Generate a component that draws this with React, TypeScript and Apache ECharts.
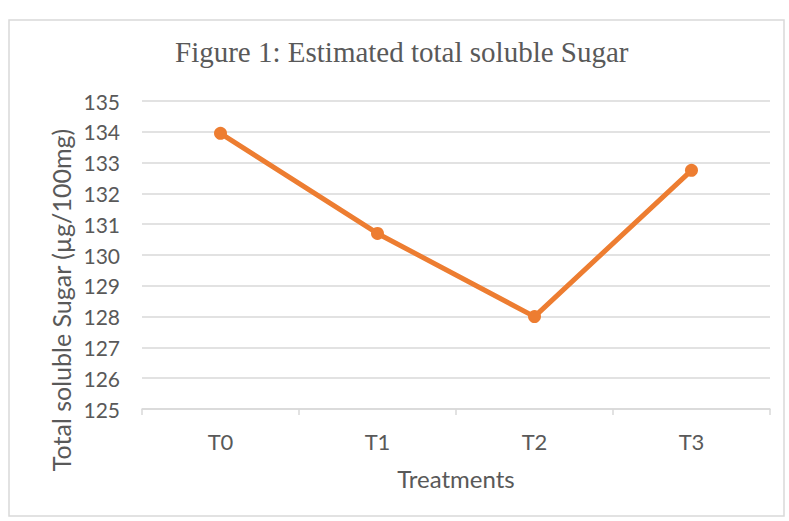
import React, { useEffect, useRef } from "react";
import * as echarts from "echarts";

const categories = ["T0", "T1", "T2", "T3"];
const sugarValues = [133.95, 130.7, 128.0, 132.75];
const yTicks = { min: 125, max: 135, interval: 1 };
const titleText = "Figure 1: Estimated total soluble Sugar";
const yAxisName = "Total soluble Sugar (µg/100mg)";
const xAxisName = "Treatments";

export default function App() {
  const ref = useRef<HTMLDivElement>(null);
  useEffect(() => {
    if (!ref.current) return;
    const chart = echarts.init(ref.current, null, { renderer: "svg" });
    const gray = "#595959";
    chart.setOption({
      animation: false,
      backgroundColor: "#ffffff",
      title: {
        text: titleText,
        left: 175,
        top: 37,
        padding: 0,
        textStyle: {
          fontFamily: "Liberation Serif",
          fontSize: 29,
          fontWeight: "normal",
          color: gray,
        },
      },
      graphic: [
        {
          type: "rect",
          shape: { x: 9, y: 20, width: 775, height: 496 },
          style: { fill: "none", stroke: "#d9d9d9", lineWidth: 1.5 },
          silent: true,
        },
        {
          type: "text",
          x: 61,
          y: 300,
          rotation: Math.PI / 2,
          style: {
            text: yAxisName,
            fontFamily: "Lato",
            fontSize: 25,
            fill: gray,
            align: "center",
            verticalAlign: "middle",
          },
          silent: true,
        },
      ],
      grid: { left: 142, right: 19, top: 101, bottom: 112, containLabel: false },
      xAxis: {
        type: "category",
        data: categories,
        boundaryGap: true,
        name: xAxisName,
        nameLocation: "middle",
        nameGap: 57,
        nameTextStyle: { fontFamily: "Lato", fontSize: 24, color: gray },
        axisLine: { show: true, lineStyle: { color: "#d9d9d9", width: 1.5 } },
        axisTick: { show: true, length: 6, lineStyle: { color: "#d9d9d9", width: 1.5 } },
        axisLabel: { margin: 21, fontFamily: "Lato", fontSize: 22, color: gray },
      },
      yAxis: {
        type: "value",
        min: yTicks.min,
        max: yTicks.max,
        interval: yTicks.interval,
        axisLine: { show: false },
        axisTick: { show: false },
        axisLabel: { margin: 22, fontFamily: "Lato", fontSize: 21, color: gray },
        splitLine: { show: true, lineStyle: { color: "#d9d9d9", width: 1.5 } },
      },
      series: [
        {
          type: "line",
          data: sugarValues,
          symbol: "circle",
          symbolSize: 13,
          lineStyle: { color: "#ED7D31", width: 5 },
          itemStyle: { color: "#ED7D31" },
        },
      ],
    });
    return () => chart.dispose();
  }, []);
  return (
    <div
      ref={ref}
      style={{ position: "fixed", left: 0, top: 0, width: 789, height: 521 }}
    />
  );
}
